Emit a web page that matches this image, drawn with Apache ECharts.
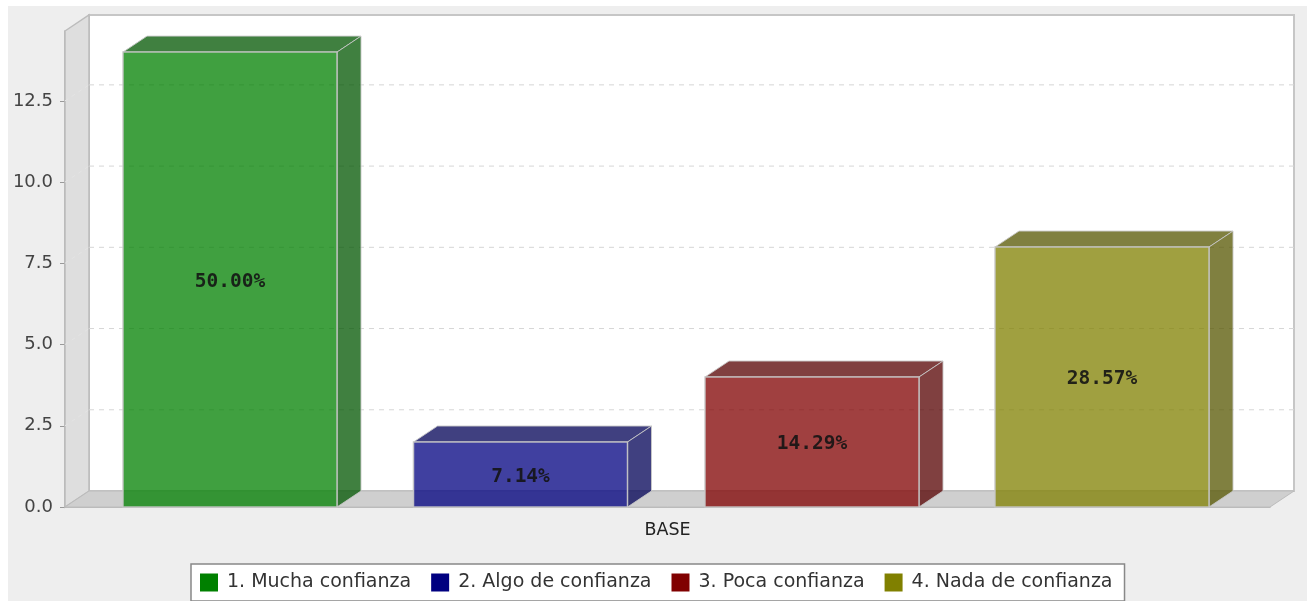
<!DOCTYPE html>
<html>
<head>
<meta charset="utf-8">
<style>
    html, body { margin: 0; padding: 0; background: #fff; overflow: hidden; }
    #chart { position: absolute; left: 8px; top: 6px; width: 1299px; height: 595px; }
</style>
<script src="https://cdn.jsdelivr.net/npm/echarts@6/dist/echarts.min.js"></script>
</head>
<body>
<div id="chart"></div>
<script>
const categories = ["BASE"];
const seriesNames = ["1. Mucha confianza", "2. Algo de confianza", "3. Poca confianza", "4. Nada de confianza"];
const seriesValues = [14, 2, 4, 8];
const percentLabels = ["50.00%", "7.14%", "14.29%", "28.57%"];
const yTicks = [0, 2.5, 5, 7.5, 10, 12.5];
const yMax = 14.65;

const baseColors = ["#008000", "#000080", "#800000", "#808000"];
const frontColors = ["rgba(0,128,0,.75)", "rgba(0,0,128,.75)", "rgba(128,0,0,.75)", "rgba(128,128,0,.75)"];
const sideColors = ["rgba(0,85,0,.75)", "rgba(0,0,85,.75)", "rgba(85,0,0,.75)", "rgba(85,85,0,.75)"];

// 3d look: depth of the box in px, bar placement from the middle of the band
const depthX = 24;
const depthY = -16;
const barWidth = 214;
const barOffsets = [-437.5, -147, 144.5, 434.5];
const edgeColor = "rgba(200,200,200,.9)";

function renderWalls(params, api) {
    const cs = params.coordSys;
    const left = cs.x, right = cs.x + cs.width, top = cs.y, bottom = cs.y + cs.height;
    const children = [];

    if (params.dataIndex === 0) {
        children.push({
            type: "polygon",
            shape: { points: [[left + depthX, top + depthY], [right + depthX, top + depthY], [right + depthX, bottom + depthY], [left + depthX, bottom + depthY]] },
            style: { fill: "#fff", stroke: "#c6c6c6", lineWidth: 2 }
        });
        children.push({
            type: "polygon",
            shape: { points: [[left, top], [left + depthX, top + depthY], [left + depthX, bottom + depthY], [left, bottom]] },
            style: { fill: "#dedede", stroke: "#bcbcbc", lineWidth: 1.5 }
        });
        children.push({
            type: "polygon",
            shape: { points: [[left, bottom], [left + depthX, bottom + depthY], [right + depthX, bottom + depthY], [right, bottom]] },
            style: { fill: "#cfcfcf", stroke: "#bcbcbc", lineWidth: 1 }
        });
    }

    const v = api.value(0);
    if (v > 0) {
        const y = api.coord([0, v])[1];
        children.push({
            type: "line",
            shape: { x1: left, y1: y, x2: left + depthX, y2: y + depthY },
            style: { stroke: "#e4e4e4", lineWidth: 1, lineDash: [4, 4] }
        });
        children.push({
            type: "line",
            shape: { x1: left + depthX, y1: y + depthY, x2: right + depthX, y2: y + depthY },
            style: { stroke: "#d6d6d6", lineWidth: 1, lineDash: [5, 5] }
        });
    }
    return { type: "group", children: children };
}

function makeBarRenderer(i) {
    return function (params, api) {
        const top = api.coord([api.value(0), api.value(1)]);
        const base = api.coord([api.value(0), 0]);
        const x0 = top[0] + barOffsets[i] - barWidth / 2;
        const x1 = x0 + barWidth;
        const y0 = top[1];
        const y1 = base[1];
        return {
            type: "group",
            children: [
                {
                    type: "polygon",
                    shape: { points: [[x0, y0], [x0 + depthX, y0 + depthY], [x1 + depthX, y0 + depthY], [x1, y0]] },
                    style: { fill: sideColors[i], stroke: edgeColor, lineWidth: 1 }
                },
                {
                    type: "polygon",
                    shape: { points: [[x1, y0], [x1 + depthX, y0 + depthY], [x1 + depthX, y1 + depthY], [x1, y1]] },
                    style: { fill: sideColors[i], stroke: edgeColor, lineWidth: 1 }
                },
                {
                    type: "rect",
                    shape: { x: x0, y: y0, width: barWidth, height: y1 - y0 },
                    style: { fill: frontColors[i], stroke: edgeColor, lineWidth: 1.5 }
                },
                {
                    type: "text",
                    style: {
                        x: (x0 + x1) / 2,
                        y: (y0 + y1) / 2 + 2,
                        text: percentLabels[i],
                        fill: "rgba(20,20,20,.9)",
                        font: "bold 19.5px 'DejaVu Sans Mono'",
                        align: "center",
                        verticalAlign: "middle"
                    }
                }
            ]
        };
    };
}

const chart = echarts.init(document.getElementById("chart"));

const barSeries = seriesNames.map(function (name, i) {
    return {
        name: name,
        type: "custom",
        coordinateSystem: "cartesian2d",
        data: [[0, seriesValues[i]]],
        encode: { x: 0, y: 1 },
        itemStyle: { color: baseColors[i] },
        renderItem: makeBarRenderer(i),
        z: 3 + i,
        silent: true
    };
});

chart.setOption({
    backgroundColor: "#eeeeee",
    animation: false,
    grid: { left: 57, right: 37, top: 25, bottom: 94 },
    legend: {
        data: seriesNames,
        left: 183,
        top: 558,
        padding: [9, 12, 9, 9],
        itemGap: 20,
        itemWidth: 18,
        itemHeight: 18,
        icon: "rect",
        backgroundColor: "#fff",
        borderColor: "#888",
        borderWidth: 1.5,
        borderRadius: 0,
        textStyle: { fontFamily: "DejaVu Sans", fontSize: 19, color: "#333", padding: [2, 0, 0, 4] }
    },
    xAxis: {
        type: "category",
        data: categories,
        axisTick: { show: false },
        axisLine: { lineStyle: { color: "#aaa", width: 1.5 } },
        axisLabel: { fontFamily: "DejaVu Sans", fontSize: 17.5, color: "#222", margin: 14 }
    },
    yAxis: {
        type: "value",
        min: 0,
        max: yMax,
        interval: 2.5,
        splitLine: { show: false },
        axisLine: { show: true, lineStyle: { color: "#aaa", width: 1.5 } },
        axisTick: { show: true, length: 5, customValues: yTicks, lineStyle: { color: "#999" } },
        axisLabel: {
            fontFamily: "DejaVu Sans",
            fontSize: 18,
            color: "#444",
            margin: 12,
            customValues: yTicks,
            formatter: function (v) { return v.toFixed(1); }
        }
    },
    series: [{
        name: "walls",
        type: "custom",
        coordinateSystem: "cartesian2d",
        data: yTicks.map(function (v) { return [v]; }),
        encode: { y: 0 },
        renderItem: renderWalls,
        z: 1,
        silent: true
    }].concat(barSeries)
});
</script>
</body>
</html>
